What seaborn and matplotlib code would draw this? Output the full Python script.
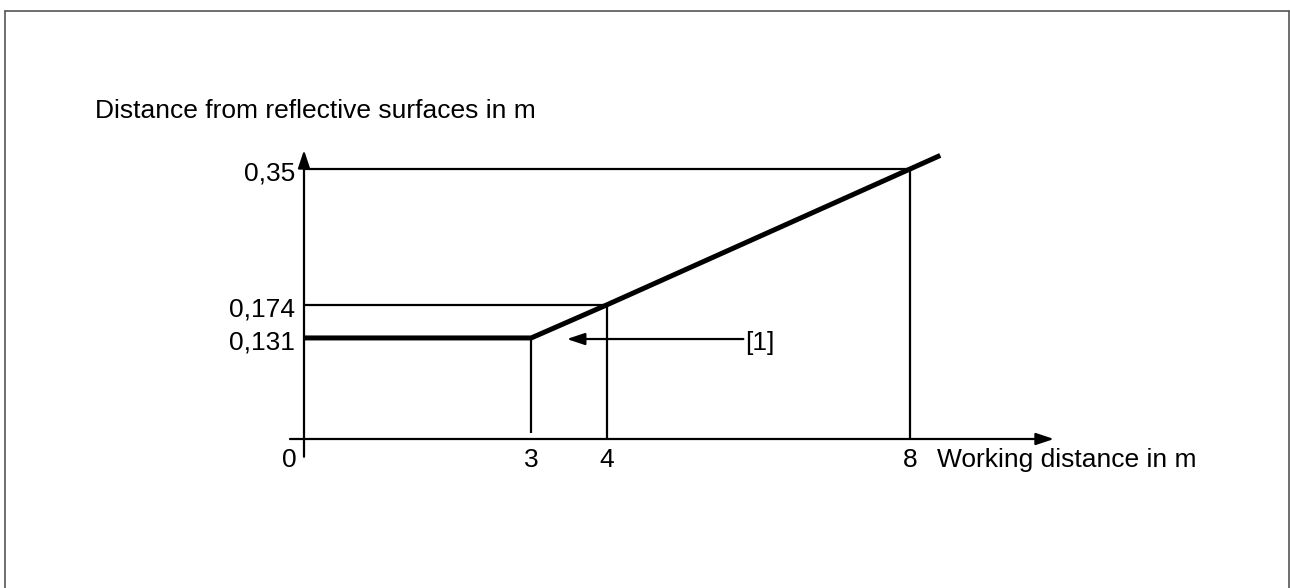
import matplotlib
matplotlib.use("Agg")
import matplotlib.pyplot as plt
import seaborn as sns
import pandas as pd
from matplotlib.lines import Line2D

sns.set_theme(style="white")
plt.rcParams["font.family"] = ["Liberation Sans", "DejaVu Sans"]

# characteristic curve (thick line)
work_dist = [0, 3, 4, 8, 8.4]
refl_dist = [0.131, 0.131, 0.174, 0.35, 0.3676]

# marked points with guide lines
mark_x = [3, 4, 8]
mark_y = [0.131, 0.174, 0.35]
x_ticks = [0, 3, 4, 8]
x_tick_labels = ["0", "3", "4", "8"]
y_ticks = [0.35, 0.174, 0.131]
y_tick_labels = ["0,35", "0,174", "0,131"]

x_label = "Working distance in m"
y_label = "Distance from reflective surfaces in m"
note = "[1]"

W, H = 1290, 588
FS = 19
fig = plt.figure(figsize=(W / 100, H / 100), dpi=100)
ax = fig.add_axes([0, 0, 1, 1])
ax.set_axis_off()

# pixel mapping of the schematic
x0_px, px_per_x = 304, 75.75
y0_px, px_per_y = 439, 771.4
ax.set_xlim(-x0_px / px_per_x, (W - x0_px) / px_per_x)
ax.set_ylim(-(H - y0_px) / px_per_y, y0_px / px_per_y)

df = pd.DataFrame({"x": work_dist, "y": refl_dist})
sns.lineplot(data=df, x="x", y="y", ax=ax, color="black", lw=3.6,
             sort=False, solid_joinstyle="miter", solid_capstyle="butt")

thin = dict(color="black", lw=1.6)
# horizontal guides
ax.hlines(mark_y[2], 0, mark_x[2], **thin)
ax.hlines(mark_y[1], 0, mark_x[1], **thin)
# vertical guides
ax.vlines(mark_x[0], 0.008, mark_y[0], **thin)
ax.vlines(mark_x[1], 0, mark_y[1], **thin)
ax.vlines(mark_x[2], 0, mark_y[2], **thin)

# axes with arrows
arrow = dict(arrowstyle="-|>,head_length=0.9,head_width=0.3", color="black",
             lw=1.6, shrinkA=0, shrinkB=0)
ax.annotate("", xy=(9.9, 0), xytext=(-0.185, 0), arrowprops=arrow)
ax.annotate("", xy=(0, 0.3746), xytext=(0, -0.023), arrowprops=arrow)

# tick labels
for v, lab in zip(x_ticks, x_tick_labels):
    dx = -10.8 if v == 0 else 0
    ax.annotate(lab, xy=(v, 0), xytext=(dx, -20.2), textcoords="offset points",
                ha="center", va="baseline", fontsize=FS, color="black")
for v, lab in zip(y_ticks, y_tick_labels):
    ax.annotate(lab, xy=(0, v), xytext=(-6.5, -8.2), textcoords="offset points",
                ha="right", va="baseline", fontsize=FS, color="black")

ax.text(8.36, -0.0363, x_label, ha="left", va="baseline", fontsize=FS, color="black")
ax.text(-2.76, 0.416, y_label, ha="left", va="baseline", fontsize=FS, color="black")

# callout [1]
ax.annotate("", xy=(3.47, 0.1296), xytext=(5.80, 0.1296),
            arrowprops=dict(arrowstyle="-|>,head_length=0.9,head_width=0.3",
                            color="black", lw=1.6, shrinkA=0, shrinkB=0))
ax.annotate(note, xy=(5.80, 0.1296), xytext=(1, -3), textcoords="offset points",
            ha="left", va="center", fontsize=FS, color="black")

# frame around the drawing (bottom edge lies outside the picture)
fc = "#555555"
l, t, r = 4.5 / W, 1 - 10.5 / H, 1288.5 / W
fig.add_artist(Line2D([l, l], [0, t], color=fc, lw=1.2, transform=fig.transFigure))
fig.add_artist(Line2D([l, r], [t, t], color=fc, lw=1.2, transform=fig.transFigure))
fig.add_artist(Line2D([r, r], [0, t], color=fc, lw=1.2, transform=fig.transFigure))

fig.savefig("out.png", dpi=100)
